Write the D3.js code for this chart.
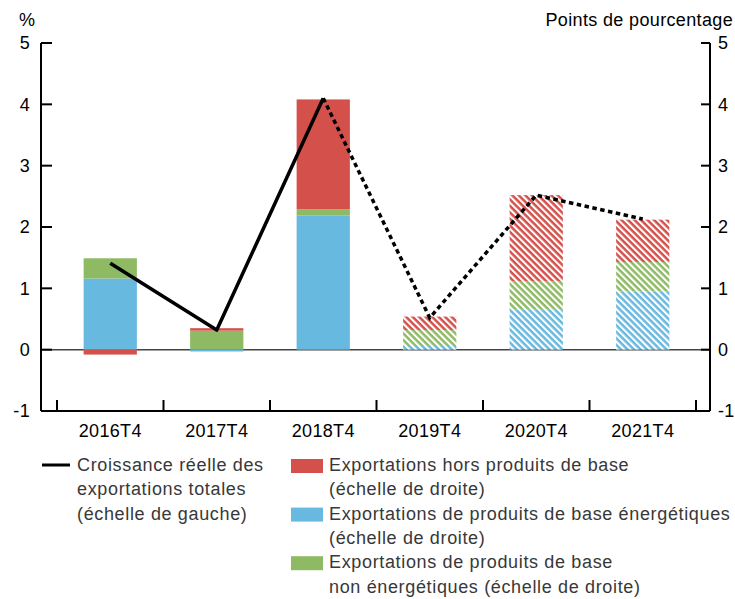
<!DOCTYPE html>
<html><head><meta charset="utf-8">
<script src="https://cdn.jsdelivr.net/npm/d3@7"></script>
<style>
body{margin:0;background:#fff;}
text{font-family:"Liberation Sans",Arial,sans-serif;letter-spacing:0.35px;}
g.lg text{letter-spacing:0.65px;}
</style></head>
<body><svg id="c" width="735" height="599"></svg>
<script>
const categories = ["2016T4","2017T4","2018T4","2019T4","2020T4","2021T4"];
const projected = [false,false,false,true,true,true];
const nonCommodity = [-0.08, 0.04, 1.79, 0.22, 1.40, 0.69];   // red
const energy = [1.16, -0.03, 2.19, 0.06, 0.66, 0.95];        // blue
const nonEnergy = [0.33, 0.31, 0.10, 0.26, 0.46, 0.48];      // green
const growth = [1.41, 0.32, 4.10, 0.52, 2.52, 2.13];
const yTicks = [-1,0,1,2,3,4,5];

const seriesKeys = ["energy","nonEnergy","nonCommodity"];
const colors = {nonCommodity:"#d4504b", energy:"#68b9df", nonEnergy:"#8dba62"};
const legendItems = [
  {key:"nonCommodity", lines:["Exportations hors produits de base","(échelle de droite)"]},
  {key:"energy", lines:["Exportations de produits de base énergétiques","(échelle de droite)"]},
  {key:"nonEnergy", lines:["Exportations de produits de base","non énergétiques (échelle de droite)"]}
];

const rows = categories.map((c,i)=>({cat:c, proj:projected[i], energy:energy[i], nonEnergy:nonEnergy[i], nonCommodity:nonCommodity[i]}));

const svg = d3.select("#c");
const L = 41, R = 710, T = 43, B = 411;
const x = d3.scaleBand().domain(categories).range([57,696]).paddingInner(0.5).paddingOuter(0.25);
const y = d3.scaleLinear().domain([-1,5]).range([B,T]);

// patterns
const defs = svg.append("defs");
seriesKeys.forEach(k=>{
  const p = defs.append("pattern").attr("id","h_"+k).attr("patternUnits","userSpaceOnUse")
    .attr("width",4.6).attr("height",4.6).attr("patternTransform","rotate(45)");
  p.append("rect").attr("width",4.6).attr("height",4.6).attr("fill","#fff");
  p.append("rect").attr("width",4.6).attr("height",2.5).attr("fill",colors[k]);
});

// stack
const stack = d3.stack().keys(seriesKeys).offset(d3.stackOffsetDiverging);
const series = stack(rows);

// zero line
svg.append("line").attr("x1",L).attr("x2",R).attr("y1",y(0)).attr("y2",y(0))
  .attr("stroke","#444").attr("stroke-width",1.5);

series.forEach(s=>{
  svg.append("g").selectAll("rect").data(s).join("rect")
    .attr("x",d=>x(d.data.cat))
    .attr("width",x.bandwidth())
    .attr("y",d=>y(Math.max(d[0],d[1])))
    .attr("height",d=>Math.abs(y(d[0])-y(d[1])))
    .attr("fill",d=>d.data.proj ? `url(#h_${s.key})` : colors[s.key]);
});

// line
const pts = categories.map((c,i)=>[x(c)+x.bandwidth()/2, y(growth[i])]);
const lineGen = d3.line();
svg.append("path").attr("d",lineGen(pts.slice(0,3))).attr("fill","none")
  .attr("stroke","#000").attr("stroke-width",3.5).attr("stroke-linejoin","round");
svg.append("path").attr("d",lineGen(pts.slice(2))).attr("fill","none")
  .attr("stroke","#000").attr("stroke-width",3.5).attr("stroke-dasharray","4.5,3.5");

// axes
const ax = svg.append("g").attr("stroke","#000").attr("stroke-width",2);
ax.append("line").attr("x1",L).attr("x2",L).attr("y1",T).attr("y2",B);
ax.append("line").attr("x1",R).attr("x2",R).attr("y1",T).attr("y2",B);
ax.append("line").attr("x1",L).attr("x2",R).attr("y1",B).attr("y2",B);
yTicks.forEach(t=>{
  ax.append("line").attr("x1",L).attr("x2",L+11).attr("y1",y(t)).attr("y2",y(t));
  ax.append("line").attr("x1",R-9).attr("x2",R).attr("y1",y(t)).attr("y2",y(t));
  svg.append("text").attr("x",30).attr("y",y(t)).attr("dy","0.36em").attr("text-anchor","end")
    .attr("font-size",18).text(t);
  svg.append("text").attr("x",718).attr("y",y(t)).attr("dy","0.36em").attr("text-anchor","start")
    .attr("font-size",18).text(t);
});
const step = x.step();
const bounds = categories.map(c=>x(c)+x.bandwidth()/2-step/2);
bounds.push(x(categories[categories.length-1])+x.bandwidth()/2+step/2);
bounds.forEach(bx=>{
  ax.append("line").attr("x1",bx).attr("x2",bx).attr("y1",B-11).attr("y2",B);
});
categories.forEach(c=>{
  svg.append("text").attr("x",x(c)+x.bandwidth()/2).attr("y",437)
    .attr("text-anchor","middle").attr("font-size",18).text(c);
});
svg.append("text").attr("x",19).attr("y",25.5).attr("font-size",18).text("%");
svg.append("text").attr("x",733).attr("y",25.5).attr("text-anchor","end")
  .attr("font-size",18).text("Points de pourcentage");

// legend
const lg = svg.append("g").attr("class","lg").attr("font-size",18).attr("fill","#383838");
lg.append("line").attr("x1",42).attr("x2",70).attr("y1",465).attr("y2",465).attr("stroke","#000").attr("stroke-width",3);
["Croissance réelle des","exportations totales","(échelle de gauche)"].forEach((t,i)=>{
  lg.append("text").attr("x",77).attr("y",471+i*24.3).text(t);
});
legendItems.forEach((it,j)=>{
  const y0 = 471 + j*48.6;
  lg.append("rect").attr("x",291).attr("y",y0-12).attr("width",32).attr("height",14).attr("fill",colors[it.key]);
  it.lines.forEach((t,i)=>{
    lg.append("text").attr("x",329).attr("y",y0+i*24.3).text(t);
  });
});
</script></body></html>
